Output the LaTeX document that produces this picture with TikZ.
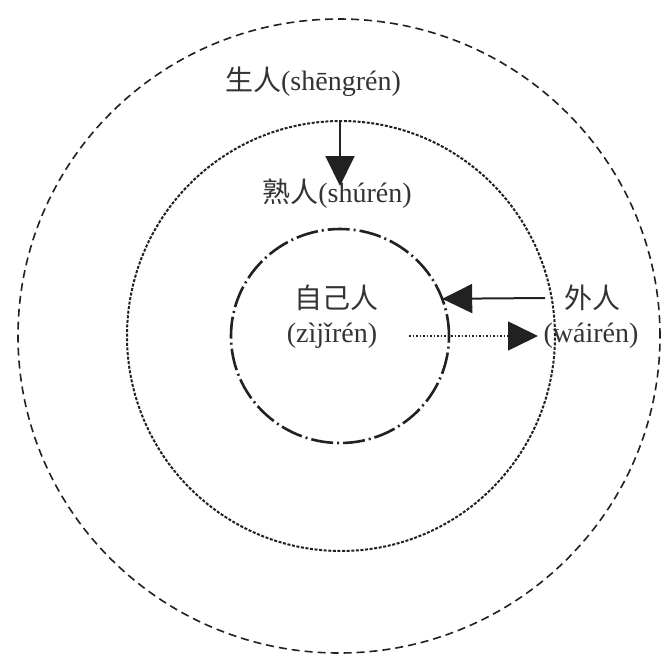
\documentclass[tikz,border=0pt]{standalone}
\usepackage{fontspec}
\setmainfont{Liberation Serif}
\newfontfamily\cjk{Noto Sans CJK SC}
\usetikzlibrary{arrows.meta,shapes.geometric}
\definecolor{ink}{gray}{0.13}
\definecolor{txt}{gray}{0.2}
\begin{document}
\begin{tikzpicture}[x=1pt,y=-1pt,
  ring/.style={ellipse, inner sep=0pt, outer sep=0pt},
  outerline/.style={draw=ink, line width=1.6pt, dash pattern=on 8pt off 5pt},
  midline/.style={draw=ink, line width=2pt, dash pattern=on 3pt off 1.6pt},
  innerline/.style={draw=ink, line width=2.6pt, dash pattern=on 22pt off 4pt on 2pt off 4pt},
  lbl/.style={inner sep=0pt, font=\fontsize{28}{32}\selectfont, text=txt},
  arr/.style={draw=ink, line width=2pt, -{Triangle[length=30pt,width=29pt]}},
  dotarr/.style={draw=ink, line width=1.5pt, dash pattern=on 1.5pt off 2pt, -{Triangle[length=30pt,width=29pt]}}
]
\useasboundingbox (0,0) rectangle (665,665);
\fill[white] (0,0) rectangle (665,665);

% rings
\node[ring, outerline, minimum width=642pt, minimum height=634pt] (outer) at (339,336) {};
\node[ring, midline, minimum width=428pt, minimum height=430pt] (mid) at (341,336) {};
\node[ring, innerline, minimum width=218pt, minimum height=214pt] (inner) at (340,336) {};

% labels
\node[lbl] (sheng) at (313,82) {{\cjk 生人}(shēngrén)};
\node[lbl] (shu) at (337,194) {{\cjk 熟人}(shúrén)};
\node[lbl] (ziji) at (336,298) {{\cjk 自己人}};
\node[lbl] (zijipy) at (332,336) {(zìjǐrén)};
\node[lbl] (wai) at (592,298) {{\cjk 外人}};
\node[lbl] (waipy) at (591,336) {(wáirén)};

% connector points
\coordinate (vtip) at (340,186);
\coordinate (wstart) at (545,298);
\coordinate (dstart) at (409,336);
\coordinate (dtip) at (538,336);

% arrows
\draw[arr] (mid.north -| vtip) -- (vtip);
\draw[arr] (wstart) -- (inner.20);
\draw[dotarr] (dstart) -- (dtip);
\end{tikzpicture}
\end{document}
